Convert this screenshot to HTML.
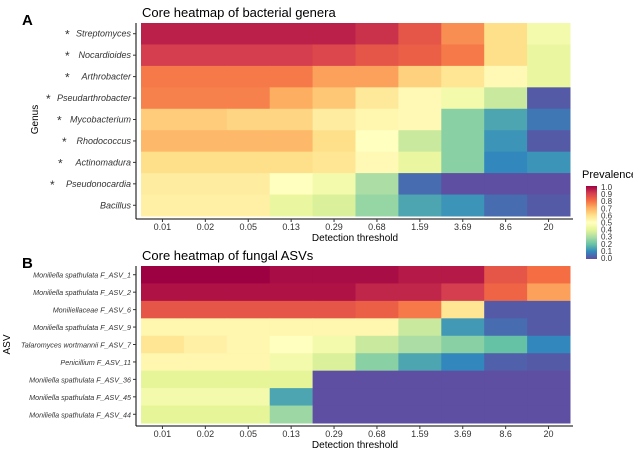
<!DOCTYPE html>
<html><head><meta charset="utf-8"><style>
body{margin:0;background:#fff;}
svg{display:block;font-family:"Liberation Sans",sans-serif;}
</style></head><body>
<svg id="c" width="633" height="449" xmlns="http://www.w3.org/2000/svg">
<defs><linearGradient id="lg" x1="0" y1="1" x2="0" y2="0">
<stop offset="0" stop-color="#5E4FA2"/><stop offset="0.1" stop-color="#3288BD"/><stop offset="0.2" stop-color="#66C2A5"/><stop offset="0.3" stop-color="#ABDDA4"/><stop offset="0.4" stop-color="#E6F598"/><stop offset="0.5" stop-color="#FFFFBF"/><stop offset="0.6" stop-color="#FEE08B"/><stop offset="0.7" stop-color="#FDAE61"/><stop offset="0.8" stop-color="#F46D43"/><stop offset="0.9" stop-color="#D53E4F"/><stop offset="1" stop-color="#9E0142"/></linearGradient></defs>
</svg>
<script>
const thresholds=["0.01","0.02","0.05","0.13","0.29","0.68","1.59","3.69","8.6","20"];
const genera=["Streptomyces","Nocardioides","Arthrobacter","Pseudarthrobacter","Mycobacterium","Rhodococcus","Actinomadura","Pseudonocardia","Bacillus"];
const generaStar=[true,true,true,true,true,true,true,true,false];
const bactValues=[
[0.95,0.95,0.95,0.95,0.95,0.92,0.85,0.75,0.6,0.45],
[0.9,0.9,0.9,0.9,0.88,0.85,0.83,0.78,0.6,0.42],
[0.78,0.78,0.78,0.78,0.72,0.72,0.63,0.58,0.52,0.42],
[0.77,0.77,0.77,0.7,0.65,0.57,0.52,0.45,0.35,0.02],
[0.64,0.64,0.62,0.62,0.56,0.53,0.52,0.25,0.15,0.07],
[0.68,0.68,0.68,0.68,0.6,0.5,0.35,0.25,0.12,0.02],
[0.6,0.6,0.6,0.6,0.58,0.52,0.42,0.25,0.1,0.12],
[0.56,0.56,0.56,0.5,0.45,0.3,0.05,0.0,0.0,0.0],
[0.55,0.55,0.55,0.42,0.38,0.27,0.15,0.12,0.05,0.02]];
const asvs=["Moniliella spathulata F_ASV_1","Moniliella spathulata F_ASV_2","Moniliellaceae F_ASV_6","Moniliella spathulata F_ASV_9","Talaromyces wortmannii F_ASV_7","Penicillium F_ASV_11","Moniliella spathulata F_ASV_36","Moniliella spathulata F_ASV_45","Moniliella spathulata F_ASV_44"];
const fungValues=[
[1,1,1,0.98,0.98,0.98,0.96,0.96,0.85,0.8],
[0.97,0.97,0.97,0.97,0.97,0.94,0.94,0.9,0.82,0.72],
[0.85,0.85,0.85,0.85,0.85,0.83,0.78,0.58,0.02,0.02],
[0.53,0.53,0.53,0.53,0.53,0.53,0.35,0.13,0.05,0.02],
[0.58,0.55,0.53,0.5,0.45,0.35,0.3,0.25,0.2,0.1],
[0.53,0.53,0.53,0.45,0.38,0.25,0.15,0.1,0.03,0.02],
[0.4,0.4,0.4,0.4,0,0,0,0,0,0],
[0.45,0.45,0.45,0.15,0,0,0,0,0,0],
[0.4,0.4,0.4,0.28,0,0,0,0,0,0]];
const legendTicks=["1.0","0.9","0.8","0.7","0.6","0.5","0.4","0.3","0.2","0.1","0.0"];

const pal=["#5E4FA2","#3288BD","#66C2A5","#ABDDA4","#E6F598","#FFFFBF","#FEE08B","#FDAE61","#F46D43","#D53E4F","#9E0142"];
function hex(h){return [1,3,5].map(i=>parseInt(h.substr(i,2),16));}
function color(v){v=Math.max(0,Math.min(1,v));const p=v*10,i=Math.min(9,Math.floor(p)),t=p-i;const a=hex(pal[i]),b=hex(pal[i+1]);return "rgb("+a.map((x,k)=>Math.round(x+(b[k]-x)*t)).join(",")+")";}
const svg=document.getElementById('c');const NS="http://www.w3.org/2000/svg";
function el(tag,attrs,txt){const e=document.createElementNS(NS,tag);for(const k in attrs)e.setAttribute(k,attrs[k]);if(txt!=null)e.textContent=txt;svg.appendChild(e);return e;}

function panel(o){
  const x0=141,x1=570,cw=(x1-x0)/thresholds.length,rh=(o.bottom-o.top)/o.rows.length;
  const xs=i=>x0+i*cw, ys=j=>o.top+j*rh;
  o.values.forEach((row,j)=>row.forEach((v,i)=>{
    const r=el('rect',{x:xs(i),y:ys(j),width:cw+0.5,height:rh+0.5,fill:color(v)});
    
    
  }));
  const ax=el('line',{x1:136,y1:o.top,x2:136,y2:o.bottom+3,stroke:'#000','stroke-width':1});
  
  const ax2=el('line',{x1:136,y1:o.bottom+3,x2:573,y2:o.bottom+3,stroke:'#000','stroke-width':1});
  
  o.rows.forEach((n,j)=>{
    const y=ys(j)+rh/2;
    el('line',{x1:133,y1:y,x2:136,y2:y,stroke:'#333'});
    const t=el('text',{x:131,y:y+3,'text-anchor':'end','font-size':o.fs,'font-style':'italic',fill:'#333'},n);
    
    if(o.stars&&o.stars[j]){
      const s=el('text',{x:o.starX[j],y:y+5,'font-size':12,fill:'#333'},'*');
      
    }
  });
  thresholds.forEach((th,i)=>{
    const x=xs(i)+cw/2;
    el('line',{x1:x,y1:o.bottom+3,x2:x,y2:o.bottom+6,stroke:'#333'});
    const t=el('text',{x:x,y:o.bottom+14,'text-anchor':'middle','font-size':9,fill:'#333'},th);
    
  });
  const xt=el('text',{x:355,y:o.bottom+25,'text-anchor':'middle','font-size':10,fill:'#000'},'Detection threshold');
  
  const tt=el('text',{x:142,y:o.top-6,'font-size':13,fill:'#000'},o.title);
  
  const L=el('text',{x:22,y:o.top+2,'font-size':15,'font-weight':'bold',fill:'#000'},o.letter);
  
  const yt=el('text',{x:o.ytX,y:(o.top+o.bottom)/2,'text-anchor':'middle','font-size':10,transform:`rotate(-90 ${o.ytX} ${(o.top+o.bottom)/2})`},o.ytitle);
  
}
panel({key:'bacterial',top:23,bottom:216,rows:genera,values:bactValues,fs:9,stars:generaStar,starX:[65,65,65,46,57,62,58,50],title:'Core heatmap of bacterial genera',letter:'A',ytitle:'Genus',ytX:38});
panel({key:'fungal',top:266,bottom:423,rows:asvs,values:fungValues,fs:7.2,title:'Core heatmap of fungal ASVs',letter:'B',ytitle:'ASV',ytX:10});

const lt=el('text',{x:582,y:178,'font-size':11,fill:'#000'},'Prevalence');

const lb=el('rect',{x:586,y:186,width:11,height:73,fill:'url(#lg)'});

legendTicks.forEach((t,i)=>{
  const y=187+i*7.1;
  const e=el('text',{x:601,y:y+3,'font-size':8,fill:'#333'},t);
  
});
</script>
</body></html>
